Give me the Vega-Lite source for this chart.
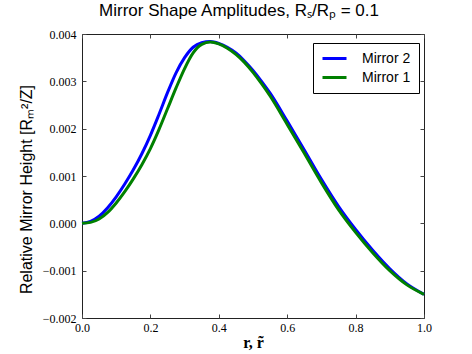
{
  "$schema": "https://vega.github.io/schema/vega-lite/v6.json",
  "width": 342,
  "height": 284,
  "autosize": {"type": "none"},
  "padding": {"left": 82, "top": 34, "right": 48, "bottom": 36},
  "background": "white",
  "config": {
    "view": {"stroke": "#222222", "strokeWidth": 1},
    "axis": {
      "domain": false,
      "grid": false,
      "tickColor": "#444444",
      "tickWidth": 1,
      "tickSize": -4,
      "labelFlush": false,
      "labelFont": "Liberation Serif",
      "labelFontSize": 12,
      "labelColor": "black",
      "titleColor": "black",
      "titleFontWeight": "normal"
    }
  },
  "title": {
    "text": "Mirror Shape Amplitudes, Rₛ/Rₚ = 0.1",
    "font": "Liberation Sans",
    "fontSize": 17,
    "fontWeight": "normal",
    "color": "black",
    "anchor": "middle",
    "dx": -14,
    "offset": 8
  },
  "data": {
    "values": [
      {"r": 0.0, "v": 0.0, "series": "Mirror 2"},
      {"r": 0.025, "v": 0.00004, "series": "Mirror 2"},
      {"r": 0.05, "v": 0.00015, "series": "Mirror 2"},
      {"r": 0.075, "v": 0.00033, "series": "Mirror 2"},
      {"r": 0.1, "v": 0.00056, "series": "Mirror 2"},
      {"r": 0.125, "v": 0.00083, "series": "Mirror 2"},
      {"r": 0.15, "v": 0.00113, "series": "Mirror 2"},
      {"r": 0.175, "v": 0.00147, "series": "Mirror 2"},
      {"r": 0.2, "v": 0.00186, "series": "Mirror 2"},
      {"r": 0.225, "v": 0.0023, "series": "Mirror 2"},
      {"r": 0.25, "v": 0.00276, "series": "Mirror 2"},
      {"r": 0.275, "v": 0.00318, "series": "Mirror 2"},
      {"r": 0.3, "v": 0.0035, "series": "Mirror 2"},
      {"r": 0.325, "v": 0.00372, "series": "Mirror 2"},
      {"r": 0.35, "v": 0.003815, "series": "Mirror 2"},
      {"r": 0.375, "v": 0.00384, "series": "Mirror 2"},
      {"r": 0.4, "v": 0.0038, "series": "Mirror 2"},
      {"r": 0.425, "v": 0.00372, "series": "Mirror 2"},
      {"r": 0.45, "v": 0.0036, "series": "Mirror 2"},
      {"r": 0.475, "v": 0.00343, "series": "Mirror 2"},
      {"r": 0.5, "v": 0.00323, "series": "Mirror 2"},
      {"r": 0.525, "v": 0.003, "series": "Mirror 2"},
      {"r": 0.55, "v": 0.00275, "series": "Mirror 2"},
      {"r": 0.6, "v": 0.00216, "series": "Mirror 2"},
      {"r": 0.65, "v": 0.00155, "series": "Mirror 2"},
      {"r": 0.7, "v": 0.00093, "series": "Mirror 2"},
      {"r": 0.75, "v": 0.00036, "series": "Mirror 2"},
      {"r": 0.8, "v": -0.00013, "series": "Mirror 2"},
      {"r": 0.85, "v": -0.00057, "series": "Mirror 2"},
      {"r": 0.9, "v": -0.00096, "series": "Mirror 2"},
      {"r": 0.95, "v": -0.00128, "series": "Mirror 2"},
      {"r": 1.0, "v": -0.0015, "series": "Mirror 2"},
      {"r": 0.0, "v": 0.0, "series": "Mirror 1"},
      {"r": 0.025, "v": 0.00002, "series": "Mirror 1"},
      {"r": 0.05, "v": 0.00009, "series": "Mirror 1"},
      {"r": 0.075, "v": 0.00023, "series": "Mirror 1"},
      {"r": 0.1, "v": 0.00043, "series": "Mirror 1"},
      {"r": 0.125, "v": 0.00067, "series": "Mirror 1"},
      {"r": 0.15, "v": 0.00094, "series": "Mirror 1"},
      {"r": 0.175, "v": 0.00124, "series": "Mirror 1"},
      {"r": 0.2, "v": 0.00158, "series": "Mirror 1"},
      {"r": 0.225, "v": 0.00198, "series": "Mirror 1"},
      {"r": 0.25, "v": 0.00242, "series": "Mirror 1"},
      {"r": 0.275, "v": 0.00286, "series": "Mirror 1"},
      {"r": 0.3, "v": 0.00327, "series": "Mirror 1"},
      {"r": 0.325, "v": 0.0036, "series": "Mirror 1"},
      {"r": 0.35, "v": 0.00378, "series": "Mirror 1"},
      {"r": 0.375, "v": 0.00383, "series": "Mirror 1"},
      {"r": 0.4, "v": 0.00379, "series": "Mirror 1"},
      {"r": 0.425, "v": 0.0037, "series": "Mirror 1"},
      {"r": 0.45, "v": 0.00357, "series": "Mirror 1"},
      {"r": 0.475, "v": 0.0034, "series": "Mirror 1"},
      {"r": 0.5, "v": 0.00319, "series": "Mirror 1"},
      {"r": 0.525, "v": 0.00295, "series": "Mirror 1"},
      {"r": 0.55, "v": 0.00269, "series": "Mirror 1"},
      {"r": 0.6, "v": 0.00209, "series": "Mirror 1"},
      {"r": 0.65, "v": 0.00148, "series": "Mirror 1"},
      {"r": 0.7, "v": 0.00086, "series": "Mirror 1"},
      {"r": 0.75, "v": 0.00029, "series": "Mirror 1"},
      {"r": 0.8, "v": -0.00019, "series": "Mirror 1"},
      {"r": 0.85, "v": -0.00062, "series": "Mirror 1"},
      {"r": 0.9, "v": -0.001, "series": "Mirror 1"},
      {"r": 0.95, "v": -0.0013, "series": "Mirror 1"},
      {"r": 1.0, "v": -0.0015, "series": "Mirror 1"}
    ]
  },
  "layer": [
    {
      "transform": [{"filter": "datum.series === 'Mirror 2'"}],
      "mark": {"type": "line", "strokeWidth": 3, "interpolate": "monotone"},
      "encoding": {
        "x": {
          "field": "r", "type": "quantitative",
          "scale": {"domain": [0, 1], "nice": false},
          "axis": {
            "orient": "bottom",
            "values": [0, 0.2, 0.4, 0.6, 0.8, 1.0],
            "format": ".1f",
            "labelPadding": 8,
            "title": "r, r̃",
            "titleFont": "Liberation Serif",
            "titleFontWeight": "bold",
            "titleFontSize": 16,
            "titlePadding": 1
          }
        },
        "y": {
          "field": "v", "type": "quantitative",
          "scale": {"domain": [-0.002, 0.004], "nice": false},
          "axis": {
            "orient": "left",
            "values": [-0.002, -0.001, 0, 0.001, 0.002, 0.003, 0.004],
            "format": ".3f",
            "labelPadding": 10,
            "title": "Relative Mirror Height [Rₘ²/Z]",
            "titleFont": "Liberation Sans",
            "titleFontSize": 16,
            "titlePadding": 8,
            "titleY": 155
          }
        },
        "color": {
          "field": "series", "type": "nominal",
          "scale": {"domain": ["Mirror 2", "Mirror 1"], "range": ["#0000ff", "#008000"]},
          "legend": {
            "title": null,
            "orient": "none",
            "legendX": 231,
            "legendY": 9,
            "symbolType": "stroke",
            "symbolStrokeWidth": 3,
            "symbolSize": 576,
            "labelFont": "Liberation Sans",
            "labelFontSize": 14,
            "labelColor": "black",
            "labelOffset": 14,
            "clipHeight": 15,
            "rowPadding": 4,
            "padding": 8,
            "strokeColor": "black",
            "fillColor": "white"
          }
        }
      }
    },
    {
      "transform": [{"filter": "datum.series === 'Mirror 1'"}],
      "mark": {"type": "line", "strokeWidth": 3, "interpolate": "monotone"},
      "encoding": {
        "x": {"field": "r", "type": "quantitative", "axis": null},
        "y": {"field": "v", "type": "quantitative", "axis": null},
        "color": {"field": "series", "type": "nominal"}
      }
    },
    {
      "mark": {"type": "point", "opacity": 0},
      "encoding": {
        "x": {"field": "r", "type": "quantitative",
          "axis": {"orient": "top", "values": [0, 0.2, 0.4, 0.6, 0.8, 1.0], "labels": false, "title": null}},
        "y": {"field": "v", "type": "quantitative",
          "axis": {"orient": "right", "values": [-0.002, -0.001, 0, 0.001, 0.002, 0.003, 0.004], "labels": false, "title": null}}
      }
    }
  ],
  "resolve": {"axis": {"x": "independent", "y": "independent"}}
}
